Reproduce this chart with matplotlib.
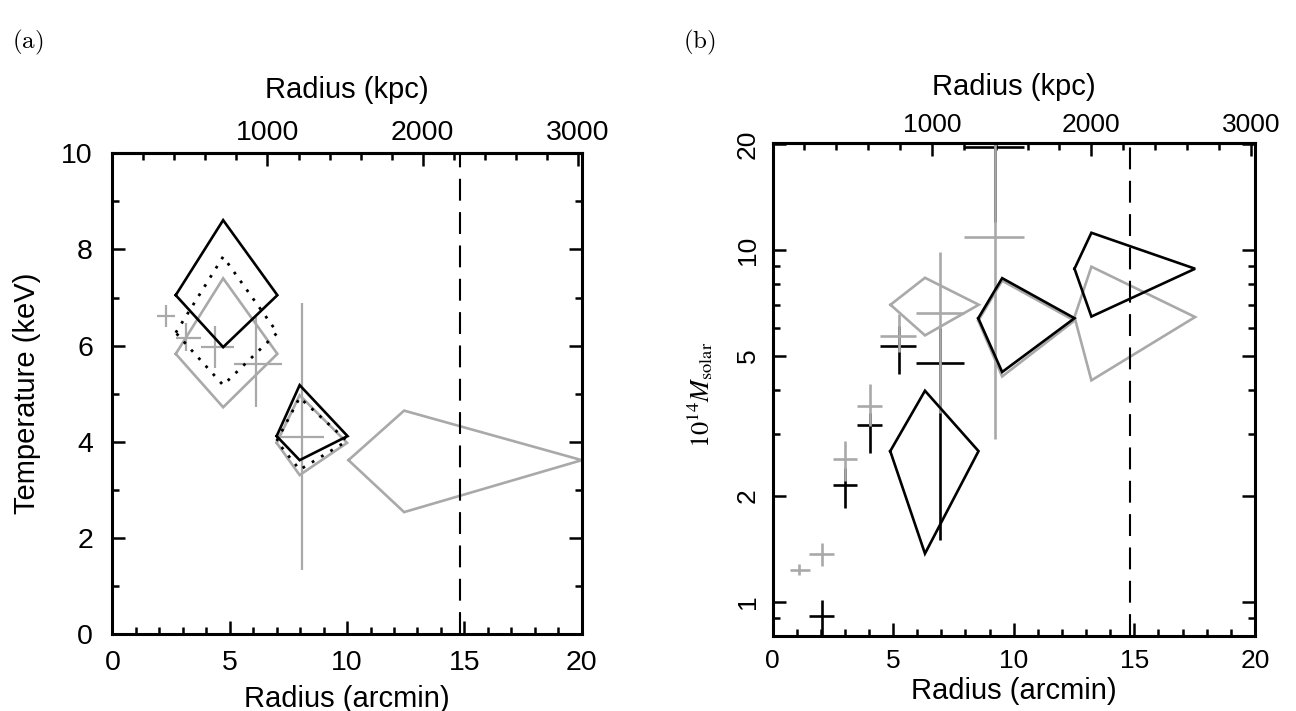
import numpy as np
import matplotlib.pyplot as plt
from matplotlib.ticker import FixedLocator, MultipleLocator

plt.rcParams.update({
    "font.family": "Liberation Sans",
    "axes.linewidth": 2.2,
})

GRAY = '#a9a9a9'
KPC_PER_ARCMIN = 151.3   # 1000 kpc ~ 6.6 arcmin
R200 = 14.8              # dashed line, arcmin

# ---- (a) temperature: diamonds (x lo / centre / hi, T lo / centre / hi)
tblk_xlo = [2.70, 7.00]
tblk_xc = [4.72, 7.98]
tblk_xhi = [7.03, 10.02]
tblk_lo = [5.97, 3.62]
tblk_c = [7.05, 4.12]
tblk_hi = [8.61, 5.18]

tdot_xlo = [2.70, 7.00]
tdot_xc = [4.72, 7.98]
tdot_xhi = [7.03, 10.00]
tdot_lo = [5.18, 3.42]
tdot_c = [6.27, 4.02]
tdot_hi = [7.85, 4.92]

tgry_xlo = [2.70, 7.00, 10.06]
tgry_xc = [4.72, 7.98, 12.43]
tgry_xhi = [7.03, 10.00, 20.00]
tgry_lo = [4.72, 3.31, 2.54]
tgry_c = [5.83, 3.98, 3.62]
tgry_hi = [7.40, 4.97, 4.65]

# gray crosses
tx = np.array([2.30, 3.15, 4.38, 6.14, 8.07])
tx_lo = np.array([1.89, 2.71, 3.77, 5.20, 7.15])
tx_hi = np.array([2.69, 3.77, 5.20, 7.24, 9.02])
ty = np.array([6.62, 6.16, 5.97, 5.62, 4.11])
ty_lo = np.array([6.39, 5.89, 5.53, 4.73, 1.34])
ty_hi = np.array([6.85, 6.47, 6.40, 6.60, 6.88])

# ---- (b) mass
mblk_xlo = [4.88, 8.53, 12.52]
mblk_xc = [6.32, 9.52, 13.22]
mblk_xhi = [8.54, 12.52, 17.52]
mblk_lo = [1.37, 4.50, 6.47]
mblk_c = [2.68, 6.40, 8.85]
mblk_hi = [3.98, 8.32, 11.2]

mgry_xlo = [4.89, 8.53, 12.52]
mgry_xc = [6.32, 9.52, 13.22]
mgry_xhi = [8.55, 12.52, 17.52]
mgry_lo = [5.72, 4.37, 4.26]
mgry_c = [6.99, 6.30, 6.45]
mgry_hi = [8.34, 8.18, 8.97]

mbx = np.array([2.03, 3.02, 4.02, 5.25, 6.96, 9.22])
mbx_lo = np.array([1.51, 2.50, 3.50, 4.46, 5.94, 7.92])
mbx_hi = np.array([2.54, 3.51, 4.53, 5.94, 7.92, 10.44])
mby = np.array([0.91, 2.15, 3.17, 5.33, 4.77, 19.6])
mby_lo = np.array([0.70, 1.85, 2.64, 4.44, 1.50, 12.0])
mby_hi = np.array([1.01, 2.40, 3.45, 6.10, 6.00, 30.0])

mgx = np.array([1.11, 2.03, 3.02, 4.02, 5.25, 6.96, 9.22])
mgx_lo = np.array([0.74, 1.51, 2.50, 3.50, 4.46, 5.94, 7.92])
mgx_hi = np.array([1.55, 2.54, 3.51, 4.53, 5.94, 7.92, 10.44])
mgy = np.array([1.23, 1.37, 2.54, 3.61, 5.69, 6.64, 10.9])
mgy_lo = np.array([1.19, 1.26, 2.20, 3.16, 5.13, 3.45, 2.90])
mgy_hi = np.array([1.28, 1.47, 2.86, 4.15, 6.59, 9.90, 30.0])

top_major = [1000, 2000, 3000]
top_minor = list(range(200, 3000, 200))


def diamonds(ax, xlo, xc, xhi, lo, c, hi, **kw):
    for i in range(len(xc)):
        ax.plot([xlo[i], xc[i], xhi[i], xc[i], xlo[i]],
                [c[i], hi[i], c[i], lo[i], c[i]],
                solid_joinstyle='miter', **kw)


def crosses(ax, x, xlo, xhi, y, ylo, yhi, color, lw):
    ax.errorbar(x, y, xerr=[x - xlo, xhi - x], yerr=[y - ylo, yhi - y],
                fmt='none', ecolor=color, elinewidth=lw, capsize=0)


def style_axes(ax, fs, xpad, ypad, toppad):
    ax.set_xlim(0, 20)
    ax.xaxis.set_major_locator(MultipleLocator(5))
    ax.xaxis.set_minor_locator(MultipleLocator(1))
    ax.tick_params(which='both', direction='in', top=False, right=True,
                   width=1.8, labelsize=fs)
    ax.tick_params(which='major', length=9.5)
    ax.tick_params(which='minor', length=5)
    ax.tick_params(axis='x', pad=xpad)
    ax.tick_params(axis='y', pad=ypad)
    ax.axvline(R200, color='k', lw=1.5, ls=(0, (10.5, 5.5)))
    sec = ax.secondary_xaxis('top', functions=(lambda a: a * KPC_PER_ARCMIN,
                                               lambda k: k / KPC_PER_ARCMIN))
    sec.xaxis.set_major_locator(FixedLocator(top_major))
    sec.xaxis.set_minor_locator(FixedLocator(top_minor))
    sec.tick_params(which='both', direction='in', width=1.8, labelsize=fs,
                    pad=toppad)
    sec.tick_params(which='major', length=9.5)
    sec.tick_params(which='minor', length=5)
    sec.spines['top'].set_linewidth(2.2)
    return sec


fig = plt.figure(figsize=(12.96, 7.11), dpi=100)

# ---------------- (a)
ax1 = fig.add_axes([0.0867, 0.1079, 0.3622, 0.6765])
diamonds(ax1, tgry_xlo, tgry_xc, tgry_xhi, tgry_lo, tgry_c, tgry_hi,
         color=GRAY, lw=1.9)
crosses(ax1, tx, tx_lo, tx_hi, ty, ty_lo, ty_hi, GRAY, 1.6)
diamonds(ax1, tdot_xlo, tdot_xc, tdot_xhi, tdot_lo, tdot_c, tdot_hi,
         color='k', lw=2.0, ls=(0, (1, 2.9)))
diamonds(ax1, tblk_xlo, tblk_xc, tblk_xhi, tblk_lo, tblk_c, tblk_hi,
         color='k', lw=1.9)
ax1.set_ylim(0, 10)
ax1.yaxis.set_major_locator(MultipleLocator(2))
ax1.yaxis.set_minor_locator(MultipleLocator(1))
style_axes(ax1, 20.5, 11, 14, 5)
ax1.set_xlabel('Radius (arcmin)', fontsize=21)
ax1.xaxis.set_label_coords(0.5, -0.105)
ax1.set_ylabel('Temperature (keV)', fontsize=21)
ax1.yaxis.set_label_coords(-0.152, 0.5)
ax1.text(0.5, 1.1316, 'Radius (kpc)', fontsize=21, transform=ax1.transAxes,
         ha='center', va='center')

# ---------------- (b)
ax2 = fig.add_axes([0.5961, 0.1048, 0.3722, 0.6934])
crosses(ax2, mbx, mbx_lo, mbx_hi, mby, mby_lo, mby_hi, 'k', 1.9)
crosses(ax2, mgx, mgx_lo, mgx_hi, mgy, mgy_lo, mgy_hi, GRAY, 1.9)
diamonds(ax2, mgry_xlo, mgry_xc, mgry_xhi, mgry_lo, mgry_c, mgry_hi,
         color=GRAY, lw=1.9)
diamonds(ax2, mblk_xlo, mblk_xc, mblk_xhi, mblk_lo, mblk_c, mblk_hi,
         color='k', lw=1.9)
ax2.set_yscale('log')
ax2.set_ylim(0.796, 20.1)
ax2.yaxis.set_major_locator(FixedLocator([1, 2, 5, 10, 20]))
ax2.yaxis.set_minor_locator(FixedLocator([0.9, 3, 4, 6, 7, 8, 9]))
ax2.set_yticklabels(['1', '2', '5', '10', '20'])
ax2.yaxis.set_minor_formatter(plt.NullFormatter())
style_axes(ax2, 19, 9, 9, 4.5)
for t in ax2.get_yticklabels():
    t.set_rotation(90)
    t.set_va('center')
ax2.set_xlabel('Radius (arcmin)', fontsize=21)
ax2.xaxis.set_label_coords(0.5, -0.083)
ax2.set_ylabel(r'$10^{14}M_{\rm solar}$', fontsize=19, math_fontfamily='stix')
ax2.yaxis.set_label_coords(-0.119, 0.49)
ax2.text(0.5, 1.1146, 'Radius (kpc)', fontsize=21, transform=ax2.transAxes,
         ha='center', va='center')

fig.text(12 / 1296, 1 - 42 / 711, r'$\mathrm{(a)}$', fontsize=18,
         math_fontfamily='cm', va='center')
fig.text(683 / 1296, 1 - 42 / 711, r'$\mathrm{(b)}$', fontsize=18,
         math_fontfamily='cm', va='center')

fig.savefig('out.png', dpi=100)
